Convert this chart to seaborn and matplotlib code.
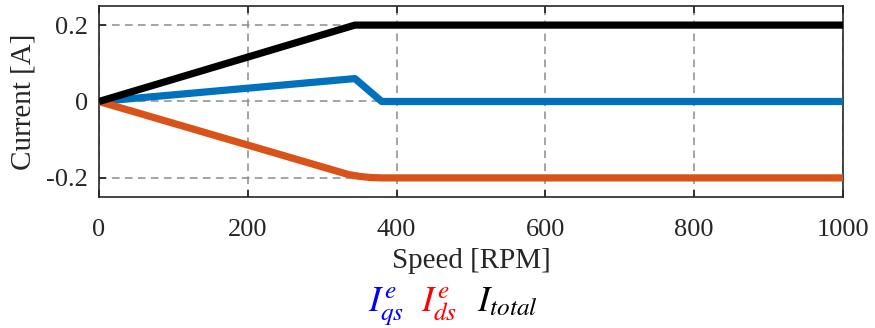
import matplotlib
matplotlib.use("Agg")
import matplotlib.pyplot as plt
import seaborn as sns
import pandas as pd

speed_total = [0, 344, 1000]
i_total = [0.0, 0.2, 0.2]
speed_qs = [0, 344, 380, 1000]
i_qs = [0.0, 0.06, 0.0, 0.0]
speed_ds = [0, 335, 350, 365, 380, 1000]
i_ds = [0.0, -0.191, -0.196, -0.199, -0.2, -0.2]

xticks = [0, 200, 400, 600, 800, 1000]
yticks = [-0.2, 0, 0.2]
ytick_labels = ["-0.2", "0", "0.2"]

sns.set_theme(style="white")
plt.rcParams['font.family'] = ['Liberation Serif', 'DejaVu Serif']
plt.rcParams['mathtext.fontset'] = 'stix'

fig = plt.figure(figsize=(8.75, 3.28), dpi=100)
ax = fig.add_axes([0.1131, 0.3994, 0.8503, 0.5823])

df = pd.concat([
    pd.DataFrame({"speed": speed_qs, "current": i_qs, "s": "qs"}),
    pd.DataFrame({"speed": speed_ds, "current": i_ds, "s": "ds"}),
    pd.DataFrame({"speed": speed_total, "current": i_total, "s": "total"}),
])
palette = {"qs": "#0072BD", "ds": "#D95319", "total": "#000000"}
sns.lineplot(data=df, x="speed", y="current", hue="s", palette=palette,
             linewidth=5.2, legend=False, ax=ax, sort=False, estimator=None,
             solid_capstyle="butt", zorder=3)

ax.set_xlim(0, 1000)
ax.set_ylim(-0.25, 0.25)
ax.set_xticks(xticks)
ax.set_xticklabels([str(t) for t in xticks])
ax.set_yticks(yticks)
ax.set_yticklabels(ytick_labels)
ax.grid(True, linestyle=(0, (5, 3.5)), color="#8c8c8c", linewidth=1.1)
for sp in ax.spines.values():
    sp.set_color("#262626")
    sp.set_linewidth(1.2)
ax.tick_params(axis="both", labelsize=19, colors="#262626", length=5,
               direction="in", bottom=True, left=True, top=True, right=True)
ax.tick_params(axis="x", pad=16)
ax.tick_params(axis="y", pad=8)
ax.set_xlabel("Speed [RPM]", fontsize=21, color="#262626", labelpad=5)
ax.set_ylabel("Current [A]", fontsize=21, color="#262626", labelpad=7)

fig.text(0.441, 0.05, r"$I^{e}_{qs}$", color="#0000FF", fontsize=26, ha="center", va="baseline")
fig.text(0.502, 0.05, r"$I^{e}_{ds}$", color="#FF0000", fontsize=26, ha="center", va="baseline")
fig.text(0.580, 0.05, r"$I_{total}$", color="#000000", fontsize=26, ha="center", va="baseline")

fig.savefig("out.png", dpi=100)
